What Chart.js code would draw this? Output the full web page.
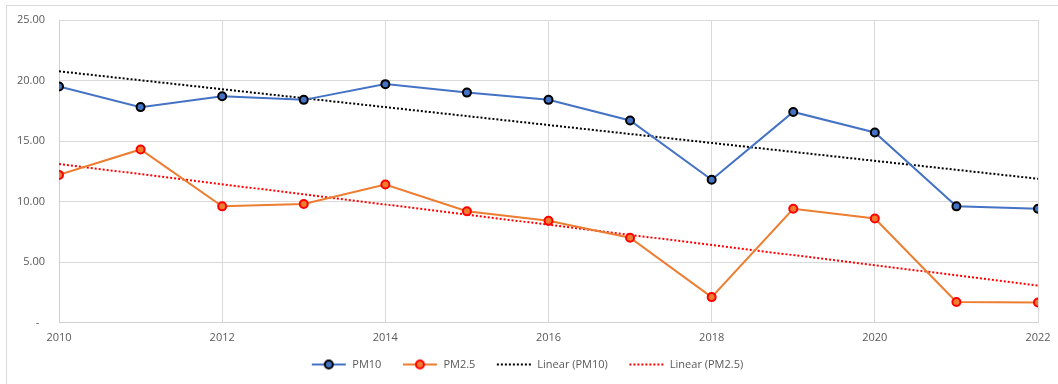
<!DOCTYPE html>
<html>
<head>
<meta charset="utf-8">
<script src="https://cdn.jsdelivr.net/npm/chart.js@4/dist/chart.umd.min.js"></script>
<style>
  body { margin: 0; background: #fff; }
  #wrap { position: relative; width: 1058px; height: 384px; }
  #frame { position: absolute; left: 6px; top: 5px; right: -2px; bottom: -2px;
           border-top: 1px solid #d9d9d9; border-left: 1px solid #d9d9d9; }
  canvas { position: absolute; left: 0; top: 0; }
</style>
</head>
<body>
<div id="wrap">
  <div id="frame"></div>
  <canvas id="grafico" width="1058" height="384"></canvas>
</div>
<script>
// años y concentraciones medias anuales
var anios = [2010, 2011, 2012, 2013, 2014, 2015, 2016, 2017, 2018, 2019, 2020, 2021, 2022];
var pm10  = [19.5, 17.8, 18.7, 18.4, 19.7, 19.0, 18.4, 16.7, 11.8, 17.4, 15.7, 9.6, 9.4];
var pm25  = [12.2, 14.3, 9.6, 9.8, 11.4, 9.2, 8.4, 7.0, 2.1, 9.4, 8.6, 1.7, 1.65];

// extremos de las lineas de tendencia (2010 y 2022)
var tendAnios = [2010, 2022];
var tend10 = [20.76, 11.88];
var tend25 = [13.1, 3.06];

var gris = '#595959';
var fuente = { family: 'Open Sans', size: 11 };

function puntos(xs, ys) {
    return xs.map(function (x, i) { return { x: x, y: ys[i] }; });
}

// muestra de la leyenda: linea con marcador o linea punteada
// (el hueco a la izquierda separa cada entrada de la anterior)
function muestra(color, relleno, borde, punteada) {
    var c = document.createElement('canvas');
    c.width = 52; c.height = 12;
    var g = c.getContext('2d');
    g.strokeStyle = color;
    g.lineWidth = 2;
    if (punteada) g.setLineDash([2, 2]);
    g.beginPath(); g.moveTo(17, 6); g.lineTo(51, 6); g.stroke();
    if (relleno) {
        g.setLineDash([]);
        g.beginPath(); g.arc(34, 6, 4, 0, Math.PI * 2);
        g.fillStyle = relleno; g.fill();
        g.strokeStyle = borde; g.stroke();
    }
    return c;
}

var ctx = document.getElementById('grafico').getContext('2d');
var chart = new Chart(ctx, {
    type: 'line',
    data: {
        datasets: [
            {
                label: 'PM10',
                data: puntos(anios, pm10),
                borderColor: '#4472C4',
                backgroundColor: '#4472C4',
                borderWidth: 2,
                pointRadius: 4,
                pointBorderWidth: 2,
                pointBackgroundColor: '#4472C4',
                pointBorderColor: '#000000',
                muestra: muestra('#4472C4', '#4472C4', '#000000', false)
            },
            {
                label: 'PM2.5',
                data: puntos(anios, pm25),
                borderColor: '#ED7D31',
                backgroundColor: '#ED7D31',
                borderWidth: 2,
                pointRadius: 4,
                pointBorderWidth: 2,
                pointBackgroundColor: '#ED7D31',
                pointBorderColor: '#FF0000',
                muestra: muestra('#ED7D31', '#ED7D31', '#FF0000', false)
            },
            {
                label: 'Linear (PM10)',
                data: puntos(tendAnios, tend10),
                borderColor: '#000000',
                borderWidth: 2,
                borderDash: [2, 2],
                pointRadius: 0,
                muestra: muestra('#000000', null, null, true)
            },
            {
                label: 'Linear (PM2.5)',
                data: puntos(tendAnios, tend25),
                borderColor: '#FF0000',
                borderWidth: 2,
                borderDash: [2, 2],
                pointRadius: 0,
                muestra: muestra('#FF0000', null, null, true)
            }
        ]
    },
    options: {
        responsive: false,
        animation: false,
        layout: { padding: { left: 0, top: 20, right: 20, bottom: 4 } },
        scales: {
            x: {
                type: 'linear',
                min: 2010,
                max: 2022,
                afterFit: function (s) {
                    s.height = 32;
                    s.paddingLeft = 0; s.paddingRight = 0;
                },
                ticks: {
                    stepSize: 2,
                    color: gris,
                    font: fuente,
                    padding: 9,
                    maxRotation: 0,
                    callback: function (v) { return String(v); }
                },
                grid: { color: '#d9d9d9', drawTicks: false },
                border: { color: '#d0d0d0' }
            },
            y: {
                min: 0,
                max: 25,
                afterFit: function (s) {
                    s.width = 59;
                    s.paddingTop = 0; s.paddingBottom = 0;
                },
                ticks: {
                    stepSize: 5,
                    color: gris,
                    font: fuente,
                    padding: 14,
                    callback: function (v) { return v === 0 ? '-  ' : v.toFixed(2); }
                },
                grid: { color: '#d9d9d9', drawTicks: false },
                border: { color: '#d0d0d0' }
            }
        },
        plugins: {
            tooltip: { enabled: false },
            legend: {
                position: 'bottom',
                labels: {
                    color: gris,
                    font: fuente,
                    padding: 4.5,
                    usePointStyle: true,
                    pointStyleWidth: 52,
                    generateLabels: function (ch) {
                        return ch.data.datasets.map(function (d, i) {
                            return {
                                text: d.label,
                                pointStyle: d.muestra,
                                fontColor: gris,
                                hidden: false,
                                datasetIndex: i,
                                lineWidth: 0,
                                strokeStyle: 'transparent',
                                fillStyle: 'transparent'
                            };
                        });
                    }
                }
            }
        }
    }
});
</script>
</body>
</html>
